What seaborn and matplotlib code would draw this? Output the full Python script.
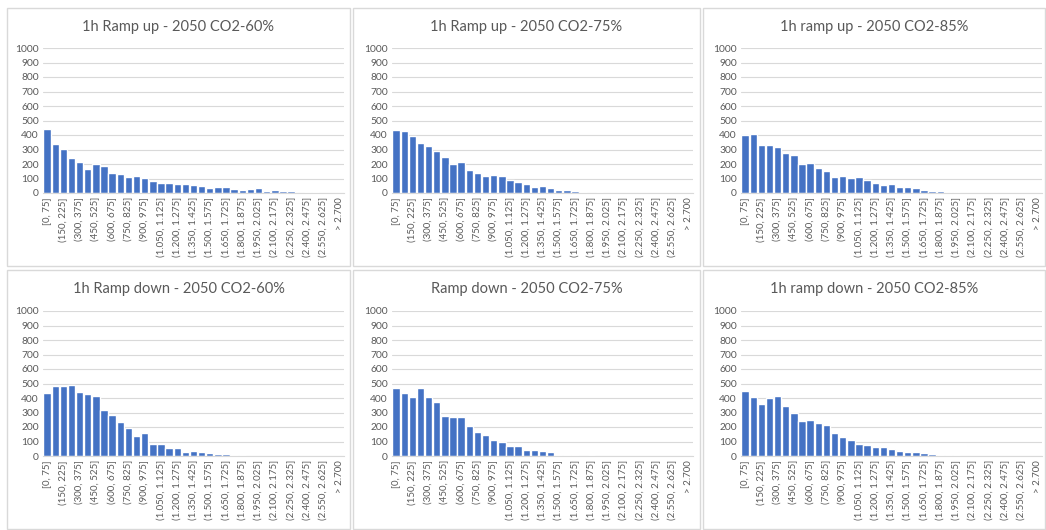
import matplotlib
matplotlib.use("Agg")
import matplotlib.pyplot as plt
import seaborn as sns
import pandas as pd
from matplotlib.patches import Rectangle

sns.set_theme(style="white")
plt.rcParams['font.family'] = ['Lato', 'DejaVu Sans']

bins = ["[0, 75]", "(75, 150]", "(150, 225]", "(225, 300]", "(300, 375]", "(375, 450]",
        "(450, 525]", "(525, 600]", "(600, 675]", "(675, 750]", "(750, 825]", "(825, 900]",
        "(900, 975]", "(975, 1.050]", "(1.050, 1.125]", "(1.125, 1.200]", "(1.200, 1.275]",
        "(1.275, 1.350]", "(1.350, 1.425]", "(1.425, 1.500]", "(1.500, 1.575]",
        "(1.575, 1.650]", "(1.650, 1.725]", "(1.725, 1.800]", "(1.800, 1.875]",
        "(1.875, 1.950]", "(1.950, 2.025]", "(2.025, 2.100]", "(2.100, 2.175]",
        "(2.175, 2.250]", "(2.250, 2.325]", "(2.325, 2.400]", "(2.400, 2.475]",
        "(2.475, 2.550]", "(2.550, 2.625]", "(2.625, 2.700]", "> 2.700"]

titles = ["1h Ramp up - 2050 CO2-60%", "1h Ramp up - 2050 CO2-75%", "1h ramp up - 2050 CO2-85%",
          "1h Ramp down - 2050 CO2-60%", "Ramp down - 2050 CO2-75%", "1h ramp down - 2050 CO2-85%"]

up_60 = [442, 339, 304, 243, 215, 165, 199, 183, 140, 130, 110, 114, 101, 80, 71, 66, 62, 60,
         57, 50, 37, 43, 39, 27, 18, 25, 32, 16, 18, 14, 14, 1, 6, 6, 2, 0, 2]
up_75 = [437, 426, 396, 346, 323, 288, 245, 199, 217, 162, 140, 119, 124, 119, 89, 76, 64, 41,
         50, 34, 18, 23, 16, 9, 2, 7, 2, 0, 0, 0, 0, 0, 0, 0, 0, 0, 0]
up_85 = [400, 407, 334, 334, 318, 277, 259, 199, 208, 171, 149, 112, 117, 101, 112, 89, 71, 55,
         60, 39, 39, 32, 23, 16, 11, 7, 5, 2, 1, 1, 0, 0, 0, 0, 0, 0, 0]
down_60 = [434, 482, 486, 493, 443, 427, 414, 316, 280, 234, 193, 141, 157, 82, 86, 57, 52, 30,
           34, 30, 18, 14, 16, 5, 7, 0, 0, 0, 0, 0, 0, 0, 0, 0, 0, 0, 0]
down_75 = [470, 432, 409, 470, 409, 370, 273, 266, 266, 207, 166, 148, 109, 95, 68, 68, 43, 43,
           36, 25, 9, 9, 5, 2, 7, 0, 2, 2, 0, 0, 0, 0, 0, 0, 0, 0, 0]
down_85 = [445, 405, 359, 400, 414, 345, 295, 241, 245, 225, 214, 157, 130, 107, 84, 77, 59, 59,
           50, 36, 25, 30, 20, 16, 9, 9, 5, 0, 3, 0, 3, 0, 0, 0, 0, 0, 0]

series = [up_60, up_75, up_85, down_60, down_75, down_85]

W, H = 1046, 530
fig = plt.figure(figsize=(W / 100, H / 100), dpi=100)

grey_txt = "#595959"
grid_c = "#D9D9D9"
bar_c = "#4472C4"

# panel boxes (pixels): (x0, y0, x1, y1)
boxes = [(7, 8, 350, 266), (353, 8, 700, 266), (703, 8, 1045, 266),
         (7, 270, 350, 529), (353, 270, 700, 529), (703, 270, 1045, 529)]
# plot areas (left, right, top(1000), bottom(0)) in pixels
plot_x = [(43, 344), (392, 693), (741, 1042)]
plot_y = [(48, 193), (311, 456)]

for i in range(6):
    r, c = divmod(i, 3)
    bx0, by0, bx1, by1 = boxes[i]
    fig.patches.append(Rectangle((bx0 / W, 1 - by1 / H), (bx1 - bx0) / W, (by1 - by0) / H,
                                 transform=fig.transFigure, fill=False,
                                 edgecolor=grid_c, linewidth=1.0))
    x0, x1 = plot_x[c]
    yt, yb = plot_y[r]
    ax = fig.add_axes([x0 / W, 1 - yb / H, (x1 - x0) / W, (yb - yt) / H])
    df = pd.DataFrame({"bin": bins, "count": series[i]})
    sns.barplot(data=df, x="bin", y="count", ax=ax, color=bar_c, saturation=1,
                width=0.91, order=bins)
    ax.set_xlim(-0.5, len(bins) - 0.5)
    ax.set_ylim(0, 1000)
    ax.set_yticks(range(0, 1001, 100))
    ax.set_yticklabels([str(v) for v in range(0, 1001, 100)], fontsize=7.4, color=grey_txt)
    ticks = list(range(0, len(bins), 2))
    ax.set_xticks(ticks)
    ax.set_xticklabels([bins[t] for t in ticks], rotation=90, fontsize=7.0, color=grey_txt,
                       ha="center", va="top")
    ax.tick_params(axis="both", length=0, pad=3)
    ax.set_xlabel("")
    ax.set_ylabel("")
    ax.yaxis.grid(True, color=grid_c, linewidth=0.8)
    ax.set_axisbelow(True)
    for s in ["top", "right", "left"]:
        ax.spines[s].set_visible(False)
    ax.spines["bottom"].set_color(grid_c)
    ax.spines["bottom"].set_linewidth(0.8)
    tx = (bx0 + bx1) / 2 / W
    ty = 1 - (by0 + 19) / H
    fig.text(tx, ty, titles[i], ha="center", va="center", fontsize=10.5, color=grey_txt)

fig.savefig("out.png", dpi=100, facecolor="white")
